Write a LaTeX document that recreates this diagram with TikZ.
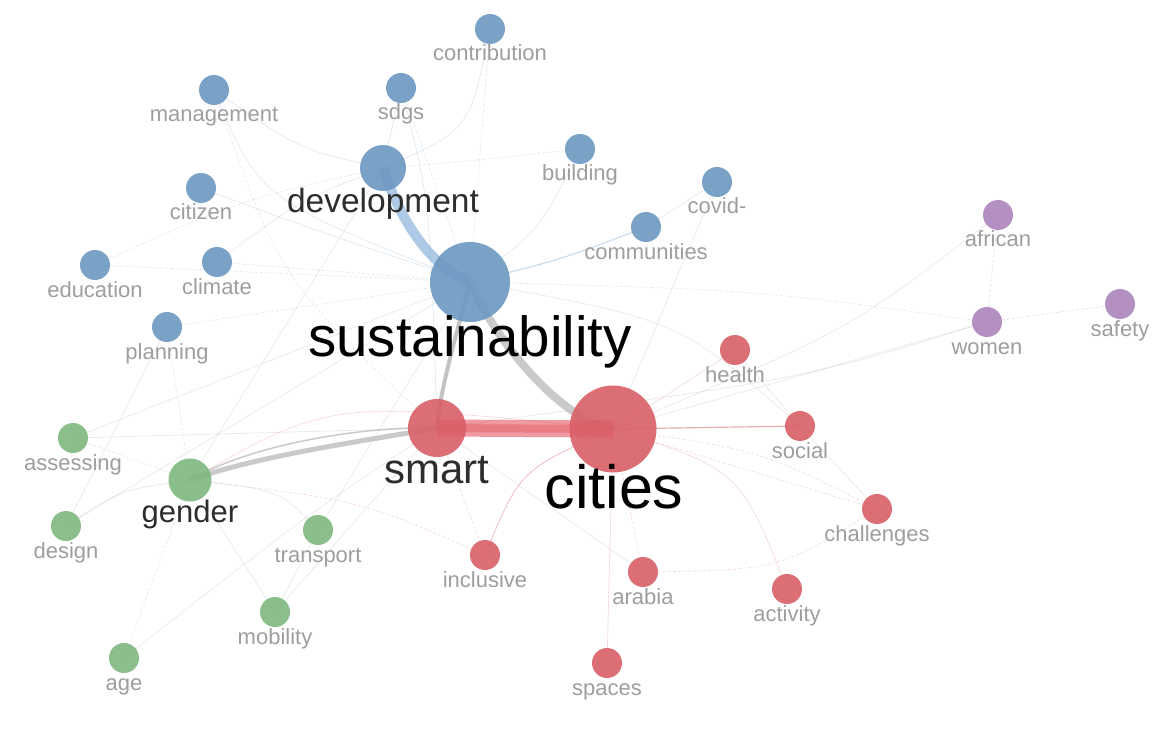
\documentclass[tikz,border=0pt]{standalone}
\usepackage{fontspec}
\setmainfont{Liberation Sans}
\pgfdeclarelayer{bg}
\pgfdeclarelayer{edges}
\pgfsetlayers{bg,edges,main}
\definecolor{cblue}{RGB}{108,152,193}
\definecolor{cred}{RGB}{217,95,103}
\definecolor{cgreen}{RGB}{126,183,126}
\definecolor{cpurple}{RGB}{172,131,188}
\definecolor{labgray}{RGB}{158,158,158}
\definecolor{darklab}{RGB}{45,45,45}
\definecolor{edgegray}{RGB}{185,185,185}
\definecolor{edgeblue}{RGB}{110,160,210}
\definecolor{barred}{RGB}{226,70,82}
\tikzset{
  kwbase/.style={circle, inner sep=0pt, draw=none, fill opacity=0.9},
  bnode/.style={kwbase, fill=cblue, minimum size=30pt},
  rnode/.style={kwbase, fill=cred, minimum size=30pt},
  gnode/.style={kwbase, fill=cgreen, minimum size=30pt},
  pnode/.style={kwbase, fill=cpurple, minimum size=30pt},
  smalllab/.style={anchor=base, inner sep=0pt, text=labgray, font=\fontsize{22}{24}\selectfont},
  biglab/.style={anchor=base, inner sep=0pt, text=darklab},
  fb/.style={draw=cblue, opacity=0.2, line width=0.7pt},
  fr/.style={draw=cred, opacity=0.22, line width=0.7pt},
  fg/.style={draw=cgreen, opacity=0.22, line width=0.7pt},
  fk/.style={draw=gray, opacity=0.17, line width=0.7pt},
  fp/.style={draw=cpurple, opacity=0.25, line width=0.7pt},
  dsh/.style={dash pattern=on 3pt off 2pt},
}
\newcommand\kwnode[5]{%
  \node[#4] (#1) at (#2,#3) {};
  \node[smalllab] (#1-lab) at (#2,#3+32) {#5};
}
\begin{document}
\begin{tikzpicture}[x=1pt,y=-1pt]
\useasboundingbox (0,0) rectangle (1169,735);
\begin{pgfonlayer}{bg}
\fill[white] (0,0) rectangle (1169,735);
\end{pgfonlayer}

% blue cluster
\kwnode{contribution}{490}{29}{bnode}{contribution}
\kwnode{management}{214}{90}{bnode}{management}
\kwnode{sdgs}{401}{88}{bnode}{sdgs}
\kwnode{building}{580}{149}{bnode}{building}
\kwnode{citizen}{201}{188}{bnode}{citizen}
\kwnode{covid}{717}{182}{bnode}{covid-}
\kwnode{communities}{646}{227}{bnode}{communities}
\kwnode{climate}{217}{262}{bnode}{climate}
\kwnode{education}{95}{265}{bnode}{education}
\kwnode{planning}{167}{327}{bnode}{planning}
\node[bnode, minimum size=46pt] (development) at (383,168) {};
\node[biglab, font=\fontsize{33.5}{36}\selectfont] (development-lab) at (383,213) {development};
\node[bnode, minimum size=80pt] (sustainability) at (470,282) {};
\node[biglab, text=black, font=\fontsize{56.5}{60}\selectfont] (sustainability-lab) at (470,356) {sustainability};

% purple cluster
\kwnode{african}{998}{215}{pnode}{african}
\kwnode{women}{987}{322}{pnode}{women}
\kwnode{safety}{1120}{304}{pnode}{safety}

% red cluster
\kwnode{health}{735}{350}{rnode}{health}
\kwnode{social}{800}{426}{rnode}{social}
\kwnode{challenges}{877}{509}{rnode}{challenges}
\kwnode{inclusive}{485}{555}{rnode}{inclusive}
\kwnode{arabia}{643}{572}{rnode}{arabia}
\kwnode{activity}{787}{589}{rnode}{activity}
\kwnode{spaces}{607}{663}{rnode}{spaces}
\node[rnode, minimum size=58pt] (smart) at (437,428) {};
\node[biglab, font=\fontsize{42}{46}\selectfont] (smart-lab) at (437,483) {smart};
\node[rnode, minimum size=87pt] (cities) at (613,429) {};
\node[biglab, text=black, font=\fontsize{61}{64}\selectfont] (cities-lab) at (614,508) {cities};

% green cluster
\kwnode{assessing}{73}{438}{gnode}{assessing}
\kwnode{design}{66}{526}{gnode}{design}
\kwnode{transport}{318}{530}{gnode}{transport}
\kwnode{mobility}{275}{612}{gnode}{mobility}
\kwnode{age}{124}{658}{gnode}{age}
\node[gnode, minimum size=43pt] (gender) at (190,480) {};
\node[biglab, font=\fontsize{31}{34}\selectfont] (gender-lab) at (190,522) {gender};

\begin{pgfonlayer}{edges}
% faint edges
\draw[fb, dsh] (education.center) -- (sustainability.center);
\draw[fb, dsh] (climate.center) -- (sustainability.center);
\draw[fb] (citizen.center) .. controls (300,225) .. (sustainability.center);
\draw[fb, dsh] (planning.center) -- (sustainability.center);
\draw[fb] (management.center) .. controls (260,200) .. (sustainability.center);
\draw[fb, dsh] (sdgs.center) -- (sustainability.center);
\draw[fb, dsh] (contribution.center) -- (sustainability.center);
\draw[fb] (building.center) .. controls (540,230) .. (sustainability.center);
\draw[draw=edgeblue, opacity=0.35, line width=1.2pt] (communities.center) .. controls (560,260) .. (sustainability.center);
\draw[fk, dsh] (sustainability.center) .. controls (760,290) .. (women.center);
\draw[fk] (sustainability.center) .. controls (680,320) .. (social.center);
\draw[fb] (management.center) .. controls (300,150) .. (development.center);
\draw[fb] (sdgs.center) -- (development.center);
\draw[fb, dsh] (development.center) .. controls (480,160) .. (building.center);
\draw[fb] (contribution.center) .. controls (470,130) .. (development.center);
\draw[fb] (climate.center) .. controls (300,200) .. (development.center);
\draw[fb, dsh] (education.center) .. controls (240,200) .. (development.center);
\draw[fb] (sdgs.center) .. controls (430,200) .. (smart.center);
\draw[fb] (communities.center) -- (covid.center);
\draw[fk] (covid.center) -- (cities.center);
\draw[fk] (cities.center) .. controls (850,330) .. (african.center);
\draw[fk] (cities.center) -- (women.center);
\draw[fk] (smart.center) .. controls (800,380) .. (women.center);
\draw[fp, dsh] (women.center) -- (african.center);
\draw[fp, dsh] (women.center) -- (safety.center);
\draw[fr] (cities.center) .. controls (690,380) .. (health.center);
\draw[fk] (health.center) -- (social.center);
\draw[fk] (social.center) -- (challenges.center);
\draw[fr, dsh] (cities.center) .. controls (760,450) .. (challenges.center);
\draw[fr, dsh] (cities.center) .. controls (780,480) .. (challenges.center);
\draw[fr, dsh] (cities.center) -- (arabia.center);
\draw[fr] (cities.center) -- (spaces.center);
\draw[fr] (cities.center) .. controls (740,470) .. (activity.center);
\draw[fr, opacity=0.45] (cities.center) .. controls (520,470) .. (inclusive.center);
\draw[fr, dsh] (arabia.center) .. controls (780,570) .. (challenges.center);
\draw[fr, dsh] (smart.center) -- (inclusive.center);
\draw[fk] (smart.center) -- (arabia.center);
\draw[fg, dsh] (gender.center) -- (assessing.center);
\draw[fk] (gender.center) .. controls (120,490) .. (design.center);
\draw[fk, dsh] (gender.center) -- (planning.center);
\draw[fk, dsh] (gender.center) -- (age.center);
\draw[fk] (gender.center) .. controls (280,490) .. (transport.center);
\draw[fk] (gender.center) -- (mobility.center);
\draw[fr, dsh] (gender.center) .. controls (360,500) .. (inclusive.center);
\draw[fk] (age.center) .. controls (300,520) .. (smart.center);
\draw[fk] (mobility.center) -- (transport.center);
\draw[fk] (mobility.center) -- (smart.center);
\draw[fk] (planning.center) -- (design.center);
\draw[fk] (assessing.center) -- (sustainability.center);
\draw[fk] (assessing.center) -- (smart.center);
\draw[fk] (design.center) -- (sustainability.center);
\draw[fk] (gender.center) -- (development.center);
\draw[fk, dsh] (management.center) .. controls (280,280) .. (smart.center);
\draw[fk] (transport.center) -- (sustainability.center);
\draw[fr] (cities.center) .. controls (330,400) .. (gender.center);

% strong edges
\draw[draw=edgeblue, opacity=0.55, line width=10pt] (development.center) .. controls (398,215) and (428,266) .. (sustainability.center);
\draw[draw=edgegray, opacity=0.75, line width=8pt] (sustainability.center) .. controls (495,340) and (560,420) .. (cities.center);
\draw[draw=edgegray, opacity=0.85, line width=4pt] (sustainability.center) .. controls (455,340) and (440,390) .. (smart.center);
\draw[draw=edgegray, opacity=0.75, line width=5pt] (gender.center) .. controls (260,455) and (370,440) .. (smart.center);
\draw[draw=edgegray, opacity=0.75, line width=1.5pt] (gender.center) .. controls (250,445) and (360,426) .. (smart.center);
\draw[draw=barred, opacity=0.55, line width=17pt] (smart.center) -- (cities.center);
\draw[draw=barred, opacity=0.35, line width=8pt] (smart.center) -- (cities.center);
\draw[draw=cred, opacity=0.5, line width=1.2pt] (cities.center) -- (social.center);
\end{pgfonlayer}
\end{tikzpicture}
\end{document}
